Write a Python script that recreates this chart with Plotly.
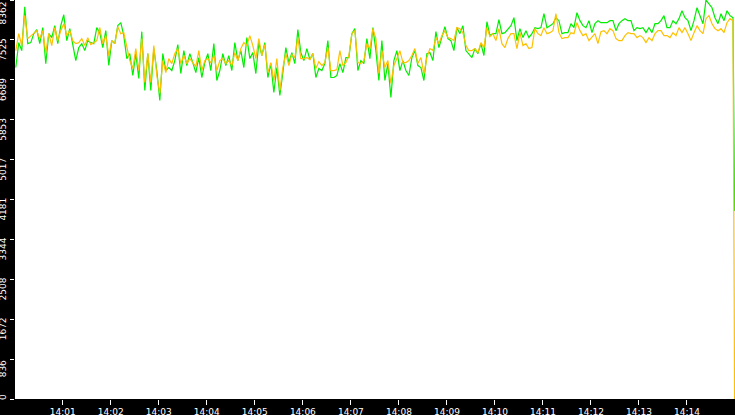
# =============================================================================
# THROUGHPUT MONITOR 14:00 - 14:15
# =============================================================================
import pandas as pd
import plotly.graph_objects as go

# =============================================================================
# DATA
# =============================================================================
# samples every 3.75 s, plus the last reading at 14:14:59
start = "2024-01-01 14:00:01.25"
n_samples = 240

green = [
    6947, 7469, 7302, 8222, 7448, 7469, 7657, 7741, 7448, 7783, 7030, 7657, 7574, 7825, 7448, 7825, 8054, 7511, 7762, 7448,
    7093, 7365, 7448, 7302, 7511, 7469, 7448, 7783, 7678, 7365, 7720, 6989, 7511, 7448, 7825, 7887, 7616, 7135, 7239, 6780,
    7239, 6717, 7699, 6466, 7239, 6466, 7344, 6884, 6257, 7239, 6884, 6947, 6884, 7093, 7427, 6821, 7302, 6989, 7239, 7051,
    6842, 7156, 6738, 7051, 7239, 6884, 7448, 6675, 6884, 7239, 6989, 7198, 6884, 7469, 7093, 7302, 6947, 7574, 7135, 7260,
    6821, 7469, 7198, 7469, 6738, 7030, 6424, 6947, 6362, 6842, 7365, 7051, 7260, 7030, 7741, 7260, 7093, 7344, 7114, 7239,
    6738, 6926, 6884, 7030, 7511, 6738, 6738, 6780, 7030, 6842, 7156, 7156, 7657, 7762, 6884, 7093, 7030, 7553, 7135, 7783,
    7302, 6675, 7511, 6675, 7030, 6320, 7093, 7302, 6884, 7093, 6884, 6780, 7156, 7302, 6989, 6947, 6675, 7239, 7260, 7093,
    7699, 7365, 7574, 7804, 7553, 7511, 7302, 7783, 7657, 7825, 7302, 7239, 7156, 7344, 7239, 7448, 7198, 7908, 7616, 7657,
    7657, 7950, 7657, 7678, 7762, 7825, 7992, 7511, 7762, 7574, 7720, 7574, 7657, 7783, 7762, 7783, 8075, 7783, 7825, 7866,
    7992, 7929, 7657, 7678, 7678, 7866, 7783, 8096, 7929, 7825, 7783, 7929, 7678, 7866, 7929, 7887, 7887, 7887, 7929, 7929,
    7720, 7866, 7929, 7971, 7929, 7929, 7720, 7783, 7762, 7783, 7678, 7783, 7678, 7866, 7866, 7929, 8034, 7783, 7783, 7929,
    7866, 7971, 8138, 7992, 7929, 7720, 7929, 8201, 8034, 7866, 8362, 8284, 8201, 7992, 7866, 8075, 7929, 8138, 8034, 7992,
    3940,
]

orange = [
    7302, 7657, 7407, 8034, 7553, 7616, 7678, 7720, 7553, 7720, 7260, 7657, 7407, 7783, 7511, 7720, 7866, 7616, 7720, 7511,
    7448, 7469, 7553, 7407, 7574, 7427, 7469, 7511, 7783, 7448, 7616, 7198, 7511, 7448, 7804, 7657, 7678, 7407, 7093, 6926,
    7344, 6884, 7553, 6633, 7239, 6633, 7407, 6780, 6403, 7093, 6842, 7135, 7030, 7239, 7344, 7030, 7198, 7030, 7135, 7051,
    6968, 7302, 6884, 7093, 7135, 7051, 7198, 6884, 7093, 7135, 7030, 7093, 6989, 7260, 7093, 7344, 7469, 7407, 7616, 7407,
    7135, 7553, 7198, 7427, 6842, 7051, 6675, 7135, 6466, 6947, 7239, 6989, 7218, 7156, 7574, 7135, 7135, 7156, 7114, 7239,
    6926, 7072, 6989, 7051, 7365, 6884, 6884, 6905, 7302, 6989, 7051, 7198, 7657, 7720, 7051, 7030, 7093, 7448, 7344, 7762,
    7553, 6821, 7302, 6947, 7093, 6612, 6989, 7135, 7302, 7051, 7051, 7093, 7198, 7344, 7030, 7156, 6821, 7156, 7344, 7302,
    7574, 7448, 7616, 7720, 7574, 7553, 7511, 7783, 7762, 7678, 7407, 7302, 7302, 7344, 7260, 7469, 7365, 7783, 7595, 7657,
    7511, 7762, 7448, 7365, 7553, 7657, 7657, 7344, 7678, 7407, 7448, 7344, 7365, 7762, 7657, 7616, 7783, 7657, 7678, 7720,
    8075, 7678, 7553, 7574, 7574, 7678, 7657, 7887, 7720, 7616, 7657, 7511, 7574, 7657, 7448, 7699, 7720, 7657, 7762, 7720,
    7553, 7511, 7511, 7616, 7678, 7657, 7657, 7574, 7616, 7574, 7469, 7574, 7511, 7657, 7720, 7720, 7616, 7616, 7574, 7678,
    7616, 7783, 7678, 7783, 7657, 7511, 7678, 7825, 7720, 7657, 7971, 8034, 7866, 7762, 7720, 7762, 7678, 7887, 7971, 7929,
    0,
]

y_max = 8362
y_ticks = [0, 836, 1672, 2508, 3344, 4181, 5017, 5853, 6689, 7525, 8362]

times = list(pd.date_range(start, periods=n_samples, freq="3750ms"))
times.append(pd.Timestamp("2024-01-01 14:14:59.5"))

# =============================================================================
# VISUALISATION
# =============================================================================
fig = go.Figure()

fig.add_trace(go.Scatter(x=times, y=green, mode="lines",
                         line=dict(color="#00ee00", width=1.2)))
fig.add_trace(go.Scatter(x=times, y=orange, mode="lines",
                         line=dict(color="#ffc000", width=1.2)))

fig.update_layout(
    width=735, height=415,
    margin=dict(l=15, r=0, t=0, b=16, pad=0),
    paper_bgcolor="black",
    plot_bgcolor="white",
    showlegend=False,
    font=dict(family="DejaVu Sans", size=9, color="white"),
)

fig.update_xaxes(
    range=["2024-01-01 14:00:00.3", "2024-01-01 14:15:00"],
    tick0="2024-01-01 14:01:00", dtick=60000, tickformat="%H:%M",
    ticks="outside", ticklen=5, tickcolor="white", tickwidth=1,
    ticklabelstandoff=-1, automargin=False,
    showgrid=False, zeroline=False, showline=False,
)

# labels hang below their tick; the two end labels are kept inside the strip
inner = y_ticks[1:-1]
fig.update_yaxes(
    range=[0, y_max + 0.5],
    tickvals=y_ticks, ticktext=[""] + [str(v) for v in inner] + [""],
    tickangle=-90, ticklabelshift=11, ticklabelstandoff=0,
    ticks="outside", ticklen=4, tickcolor="white", tickwidth=1,
    automargin=False,
    showgrid=False, zeroline=False, showline=False,
)
for val, anchor, shift in [(y_ticks[0], "bottom", -3), (y_ticks[-1], "top", 0)]:
    fig.add_annotation(
        x=0, xref="paper", xanchor="right", xshift=-5,
        y=val, yref="y", yanchor=anchor, yshift=shift,
        text=str(val), textangle=-90, showarrow=False,
        font=dict(size=9, color="white"),
    )

# the page body keeps its default 8px margin otherwise
fig.write_html("out.html", config={"displayModeBar": False},
               post_script="document.body.style.margin = '0';")
